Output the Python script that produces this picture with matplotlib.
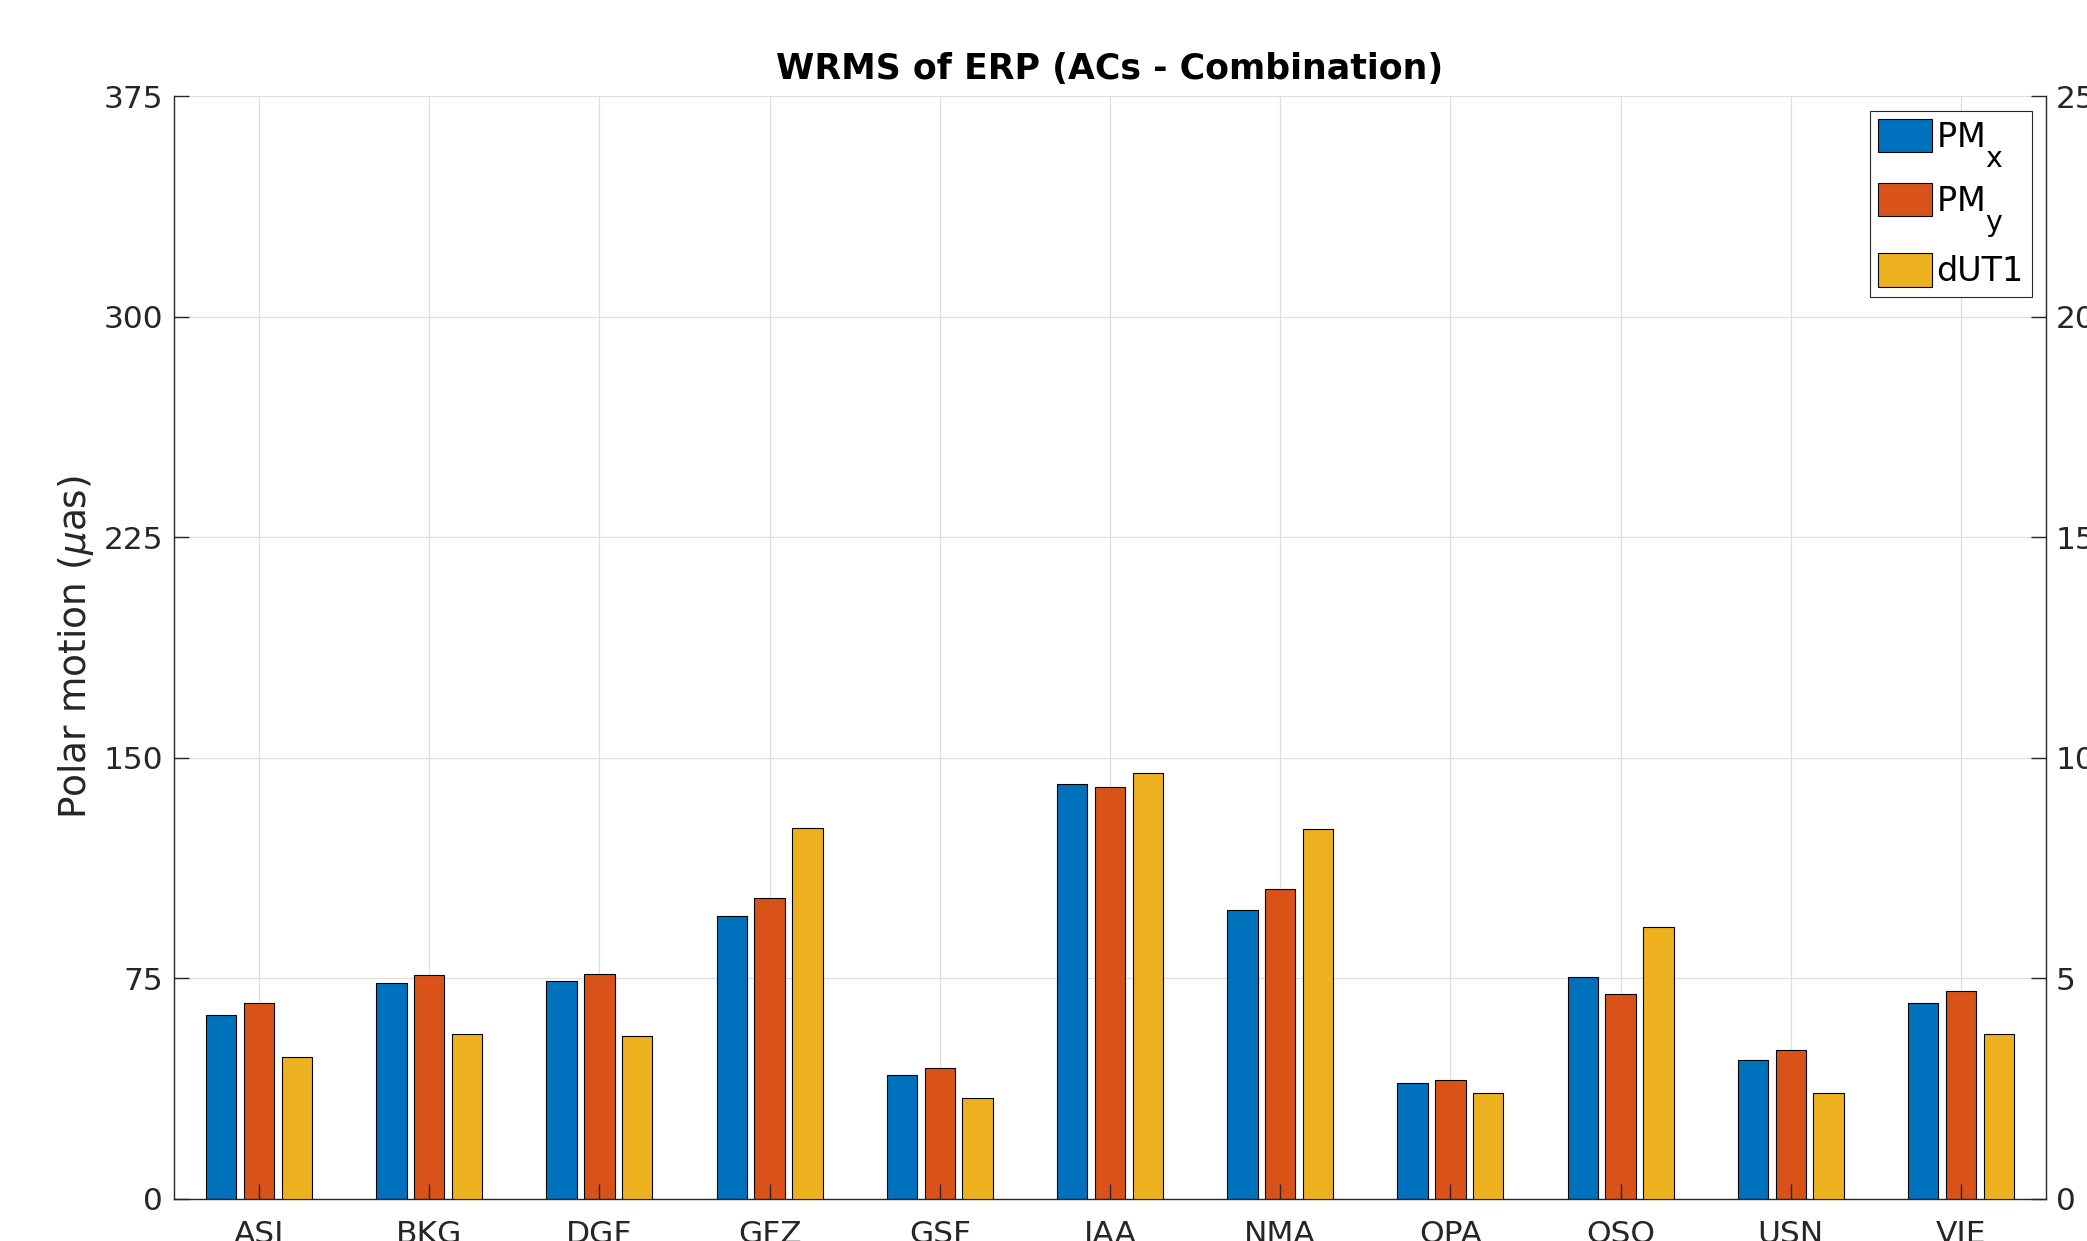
import numpy as np
import matplotlib
matplotlib.use("Agg")
import matplotlib.pyplot as plt
import matplotlib._mathtext as _mt

# MATLAB-style TeX subscripts: large and dropped well below the baseline
_mt.SHRINK_FACTOR = 0.85
for _cls in (_mt.FontConstantsBase, _mt.DejaVuSansFontConstants):
    _cls.sub1 = 1.1

# ---- data ----
centers = ["ASI", "BKG", "DGF", "GFZ", "GSF", "IAA", "NMA", "OPA", "OSO", "USN", "VIE"]
pm_x = [62.5, 73.6, 74.1, 96.2, 42.3, 141.2, 98.4, 39.5, 75.5, 47.4, 66.6]      # µas
pm_y = [66.7, 76.0, 76.4, 102.2, 44.5, 140.1, 105.4, 40.3, 69.8, 50.6, 70.8]    # µas
dut1 = [3.22, 3.73, 3.69, 8.41, 2.29, 9.66, 8.38, 2.41, 6.16, 2.41, 3.73]       # right axis units
left_ticks = [0, 75, 150, 225, 300, 375]
right_ticks = [0, 5, 10, 15, 20, 25]
series_labels = [r"PM$_\mathregular{x}$", r"PM$_\mathregular{y}$", "dUT1"]
colors = ["#0072BD", "#D95319", "#EDB120"]

plt.rcParams["font.family"] = ["DejaVu Sans"]
plt.rcParams["mathtext.fontset"] = "dejavusans"

W, H = 2087, 1241
fig = plt.figure(figsize=(W / 100, H / 100), dpi=100)
L, R, T, B = 174, 2046, 96, 1199
ax = fig.add_axes([L / W, 1 - B / H, (R - L) / W, (B - T) / H])
ax2 = ax.twinx()

axc = "#262626"
x = np.arange(1, len(centers) + 1)
bw = 0.178
off = 0.2222

b1 = ax.bar(x - off, pm_x, bw, color=colors[0], edgecolor="black", linewidth=0.8, zorder=1)
b2 = ax.bar(x, pm_y, bw, color=colors[1], edgecolor="black", linewidth=0.8, zorder=1)
b3 = ax2.bar(x + off, dut1, bw, color=colors[2], edgecolor="black", linewidth=0.8, zorder=1)

ax.set_xlim(0.5, len(centers) + 0.5)
ax.set_ylim(0, 375)
ax2.set_ylim(0, 25)
ax.set_yticks(left_ticks)
ax2.set_yticks(right_ticks)
ax.set_xticks(x)
ax.set_xticklabels(centers)

ax.set_axisbelow(True)
ax.grid(True, color="#DFDFDF", linewidth=0.9)

ax.spines["top"].set_visible(False)
ax.spines["right"].set_visible(False)
for s in ["top", "left", "bottom"]:
    ax2.spines[s].set_visible(False)
for s in ["left", "bottom"]:
    ax.spines[s].set_color(axc)
    ax.spines[s].set_linewidth(1.0)
ax2.spines["right"].set_color(axc)
ax2.spines["right"].set_linewidth(1.0)

ax.tick_params(axis="y", direction="in", length=11, width=1.0, color=axc,
               labelcolor=axc, labelsize=22.5, pad=8)
ax.tick_params(axis="x", direction="in", length=0, labelcolor=axc, labelsize=22.5, pad=15)
ax2.tick_params(axis="y", direction="in", length=11, width=1.0, color=axc,
                labelcolor=axc, labelsize=22.5, pad=7)
# x ticks drawn on the overlay axes so they appear above the bars
ax2.xaxis.set_visible(True)
ax2.tick_params(axis="x", direction="in", length=11, width=1.0, color=axc,
                bottom=True, top=False, labelbottom=False, labeltop=False)

ax.set_ylabel(r"Polar motion ($\mu$as)", fontsize=27, color=axc, labelpad=5)
ax.set_title("WRMS of ERP (ACs - Combination)", fontsize=25, fontweight="bold", pad=12)

leg = ax2.legend([b1, b2, b3], series_labels, loc="upper right",
                 bbox_to_anchor=(0.9925, 0.9864), borderaxespad=0.0,
                 fontsize=24, fancybox=False, framealpha=1.0, edgecolor=axc,
                 handlelength=1.62, handleheight=1.15, handletextpad=0.12,
                 borderpad=0.25, labelspacing=0.4)
leg.get_frame().set_linewidth(0.8)

fig.savefig("out.png", dpi=100)
